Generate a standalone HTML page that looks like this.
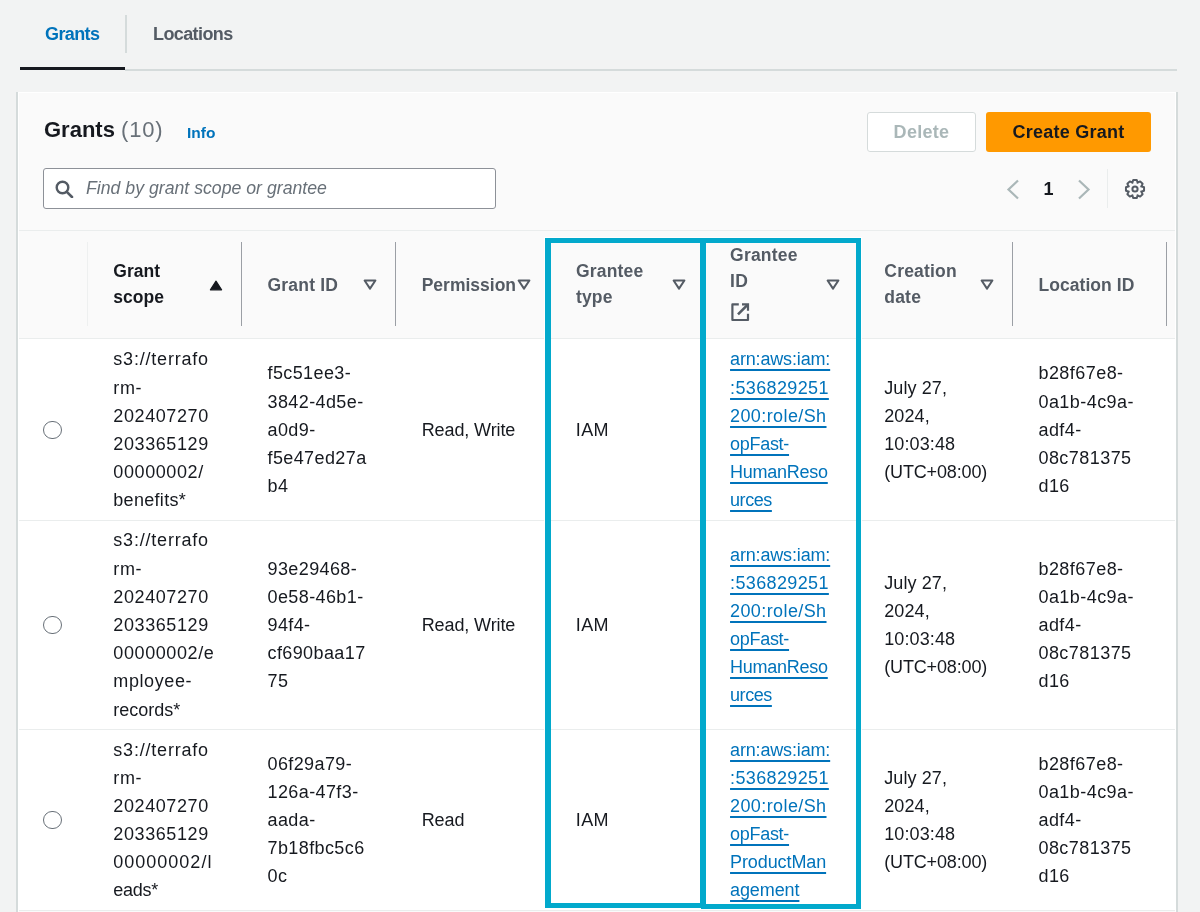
<!DOCTYPE html>
<html><head><meta charset="utf-8">
<style>
*{box-sizing:border-box;margin:0;padding:0}
html,body{width:1200px;height:912px;overflow:hidden;background:#f2f3f3;font-family:"Liberation Sans",sans-serif;color:#16191f}
.a{position:absolute;white-space:nowrap}
.tab{font-weight:bold;font-size:18px;line-height:20px;letter-spacing:-0.6px}
.hd{font-size:17.5px;font-weight:bold;line-height:25.6px;color:#545b64}
.sep{position:absolute;top:242px;width:1px;height:84px;background:#9b9fa5}
.tri{position:absolute}
#tbl{position:absolute;left:19px;top:339px;width:1156px;height:600px;overflow:hidden}
table{border-collapse:collapse;table-layout:fixed;width:1300px}
td{text-align:left;vertical-align:middle;background:#fff;border-bottom:1px solid #eaeded;font-size:18px;line-height:28.17px;white-space:nowrap;padding:1.2px 0 0 26.3px;letter-spacing:0.3px}
a{color:#0073bb;text-decoration:underline;text-underline-offset:4.2px;text-decoration-thickness:1.9px}
.radio{display:block;width:18.4px;height:18.4px;border:1.7px solid #687078;border-radius:50%}
.box{position:absolute;border:5px solid #02a9cc}
.halo{position:absolute;border:1px solid rgba(255,255,255,.9)}
</style></head><body>
<div id="root" style="position:absolute;left:0;top:0;width:1200px;height:912px;overflow:hidden;will-change:transform">
<div class="a tab" style="left:45px;top:23.6px;color:#0073bb">Grants</div>
<div class="a tab" style="left:153px;top:23.6px;color:#545b64">Locations</div>
<div class="a" style="left:125px;top:15px;width:2px;height:38px;background:#d5dbdb"></div>
<div class="a" style="left:125px;top:69px;width:1052px;height:2px;background:#d5dbdb"></div>
<div class="a" style="left:20px;top:67px;width:105px;height:3px;background:#16191f"></div>
<div class="a" style="left:16px;top:92px;width:1162px;height:830px;background:#fafafa;border-left:2px solid #d5dbdb;border-right:2px solid #d5dbdb;box-shadow:inset 1px 0 0 #fff,inset -1px 0 0 #fff,inset 0 1px 0 #fff"></div>
<div class="a" style="left:44px;top:115.5px;font-size:22px;font-weight:bold;line-height:28px">Grants <span style="font-weight:normal;color:#687078;letter-spacing:0.8px">(10)</span></div>
<div class="a" style="left:187px;top:124px;font-size:15.5px;font-weight:bold;color:#0073bb;line-height:18px">Info</div>
<div class="a" style="left:867px;top:112px;width:109px;height:40px;border:1px solid #d5dbdb;border-radius:3px;background:#fff;color:#aab7b8;font-weight:bold;font-size:18px;line-height:38px;text-align:center;letter-spacing:0.3px">Delete</div>
<div class="a" style="left:986px;top:112px;width:165px;height:40px;border-radius:3px;background:#ff9900;color:#16191f;font-weight:bold;font-size:18px;line-height:40px;text-align:center;letter-spacing:0.25px">Create Grant</div>
<div class="a" style="left:43px;top:168px;width:453px;height:41px;border:1px solid #8d9198;border-radius:3px;background:#fff"></div>
<svg class="a" style="left:55px;top:180px" width="19" height="18" viewBox="0 0 19 18"><circle cx="7.5" cy="7.5" r="5.8" fill="none" stroke="#545b64" stroke-width="2.4"/><line x1="11.8" y1="11.8" x2="17" y2="17" stroke="#545b64" stroke-width="2.6" stroke-linecap="round"/></svg>
<div class="a" style="left:86px;top:178px;font-size:17.7px;font-style:italic;color:#687078;line-height:20px">Find by grant scope or grantee</div>
<svg class="a" style="left:1006px;top:179px" width="14" height="21" viewBox="0 0 14 21"><polyline points="12,1.5 2.5,10.5 12,19.5" fill="none" stroke="#aab7b8" stroke-width="2.2"/></svg>
<div class="a" style="left:1043.5px;top:178.5px;font-size:18px;font-weight:bold;line-height:20px">1</div>
<svg class="a" style="left:1077px;top:179px" width="14" height="21" viewBox="0 0 14 21"><polyline points="2,1.5 11.5,10.5 2,19.5" fill="none" stroke="#aab7b8" stroke-width="2.2"/></svg>
<div class="a" style="left:1107px;top:169px;width:1px;height:39px;background:#eaeded"></div>
<svg class="a" style="left:1122.6px;top:177.1px" width="24" height="24" viewBox="0 0 24 24"><path d="M9.50 5.14 L10.30 2.96 L13.70 2.96 L14.50 5.14 L14.56 5.81 L15.08 5.38 L17.19 4.40 L19.60 6.81 L18.62 8.92 L18.19 9.44 L18.86 9.50 L21.04 10.30 L21.04 13.70 L18.86 14.50 L18.19 14.56 L18.62 15.08 L19.60 17.19 L17.19 19.60 L15.08 18.62 L14.56 18.19 L14.50 18.86 L13.70 21.04 L10.30 21.04 L9.50 18.86 L9.44 18.19 L8.92 18.62 L6.81 19.60 L4.40 17.19 L5.38 15.08 L5.81 14.56 L5.14 14.50 L2.96 13.70 L2.96 10.30 L5.14 9.50 L5.81 9.44 L5.38 8.92 L4.40 6.81 L6.81 4.40 L8.92 5.38 L9.44 5.81Z" fill="none" stroke="#545b64" stroke-width="2" stroke-linejoin="round"/><circle cx="12" cy="12" r="2.6" fill="none" stroke="#545b64" stroke-width="2"/></svg>
<div class="a" style="left:19px;top:230px;width:1156px;height:109px;background:#fafafa;border-top:1px solid #eaeded;border-bottom:1px solid #eaeded"></div>
<div class="sep" style="left:87px;background:#eef0f0"></div>
<div class="sep" style="left:241px;background:#9b9fa5"></div>
<div class="sep" style="left:395px;background:#9b9fa5"></div>
<div class="sep" style="left:549px;background:#9b9fa5"></div>
<div class="sep" style="left:703px;background:#9b9fa5"></div>
<div class="sep" style="left:858px;background:#9b9fa5"></div>
<div class="sep" style="left:1012px;background:#9b9fa5"></div>
<div class="sep" style="left:1166px;background:#9b9fa5"></div>
<div class="a hd" style="left:113.3px;top:259.34px;color:#16191f;letter-spacing:0px">Grant<br>scope</div>
<svg class="tri" style="left:209.0px;top:279.5px" width="14" height="11" viewBox="0 0 14 11"><path d="M7 1.2L12.6 9.8H1.4Z" fill="#16191f" stroke="#16191f" stroke-width="1.2" stroke-linejoin="round"/></svg>
<div class="a hd" style="left:267.5px;top:272.74px;color:#545b64;letter-spacing:0.2px">Grant ID</div>
<svg class="tri" style="left:363.2px;top:279.3px" width="14" height="11" viewBox="0 0 14 11"><path d="M1.6 1.5H12.4L7 9.6Z" fill="none" stroke="#545b64" stroke-width="2" stroke-linejoin="round"/></svg>
<div class="a hd" style="left:421.7px;top:272.74px;color:#545b64;letter-spacing:0px">Permission</div>
<svg class="tri" style="left:517.4px;top:279.3px" width="14" height="11" viewBox="0 0 14 11"><path d="M1.6 1.5H12.4L7 9.6Z" fill="none" stroke="#545b64" stroke-width="2" stroke-linejoin="round"/></svg>
<div class="a hd" style="left:575.9px;top:259.34px;color:#545b64;letter-spacing:0.2px">Grantee<br>type</div>
<svg class="tri" style="left:671.5999999999999px;top:279.3px" width="14" height="11" viewBox="0 0 14 11"><path d="M1.6 1.5H12.4L7 9.6Z" fill="none" stroke="#545b64" stroke-width="2" stroke-linejoin="round"/></svg>
<div class="a hd" style="left:730.1px;top:243.14px;color:#545b64;letter-spacing:0.2px">Grantee<br>ID</div>
<svg class="a" style="left:730.6px;top:303.2px" width="19" height="19" viewBox="0 0 19 19"><path d="M7.8 1.4H1.4V17H17V10.8" fill="none" stroke="#545b64" stroke-width="2.2" stroke-linejoin="round"/><path d="M11 1.4H17V7.8" fill="none" stroke="#545b64" stroke-width="2.2"/><path d="M16.5 1.9L7 11.4" fill="none" stroke="#545b64" stroke-width="2.6"/></svg>
<svg class="tri" style="left:825.8px;top:279.3px" width="14" height="11" viewBox="0 0 14 11"><path d="M1.6 1.5H12.4L7 9.6Z" fill="none" stroke="#545b64" stroke-width="2" stroke-linejoin="round"/></svg>
<div class="a hd" style="left:884.3px;top:259.34px;color:#545b64;letter-spacing:0.2px">Creation<br>date</div>
<svg class="tri" style="left:980.0px;top:279.3px" width="14" height="11" viewBox="0 0 14 11"><path d="M1.6 1.5H12.4L7 9.6Z" fill="none" stroke="#545b64" stroke-width="2" stroke-linejoin="round"/></svg>
<div class="a hd" style="left:1038.5px;top:272.74px;color:#545b64;letter-spacing:0.05px">Location ID</div>
<div id="tbl"><table><colgroup><col style="width:68px"><col style="width:154.2px"><col style="width:154.2px"><col style="width:154.2px"><col style="width:154.2px"><col style="width:154.2px"><col style="width:154.2px"><col style="width:154.2px"><col style="width:152.6px"></colgroup><tbody>
<tr style="height:181px">
<td style="padding-left:24.2px"><span class="radio"></span></td>
<td><span style="letter-spacing:0.8px">s3://terrafo</span><br><span style="letter-spacing:0.6px">rm-</span><br><span style="letter-spacing:0.6px">202407270</span><br><span style="letter-spacing:0.6px">203365129</span><br><span style="letter-spacing:0.6px">00000002/</span><br><span style="letter-spacing:0.3px">benefits*</span></td>
<td style="letter-spacing:0.4px">f5c51ee3-<br>3842-4d5e-<br>a0d9-<br>f5e47ed27a<br>b4</td>
<td style="letter-spacing:-0.1px">Read, Write</td>
<td>IAM</td>
<td><a style="letter-spacing:-0.16px">arn:aws:iam:</a><br><a style="letter-spacing:0.37px">:536829251</a><br><a style="letter-spacing:0.4px">200:role/Sh</a><br><a style="letter-spacing:-0.29px">opFast-</a><br><a style="letter-spacing:-0.26px">HumanReso</a><br><a style="letter-spacing:-0.44px">urces</a></td>
<td style="letter-spacing:0.1px">July 27,<br>2024,<br>10:03:48<br><span style="letter-spacing:-0.15px">(UTC+08:00)</span></td>
<td style="letter-spacing:0.45px">b28f67e8-<br>0a1b-4c9a-<br>adf4-<br>08c781375<br>d16</td>
<td></td></tr>
<tr style="height:209px">
<td style="padding-left:24.2px"><span class="radio"></span></td>
<td><span style="letter-spacing:0.8px">s3://terrafo</span><br><span style="letter-spacing:0.6px">rm-</span><br><span style="letter-spacing:0.6px">202407270</span><br><span style="letter-spacing:0.6px">203365129</span><br><span style="letter-spacing:0.6px">00000002/e</span><br><span style="letter-spacing:0.6px">mployee-</span><br><span style="letter-spacing:0px">records*</span></td>
<td style="letter-spacing:0.4px">93e29468-<br>0e58-46b1-<br>94f4-<br>cf690baa17<br>75</td>
<td style="letter-spacing:-0.1px">Read, Write</td>
<td>IAM</td>
<td><a style="letter-spacing:-0.16px">arn:aws:iam:</a><br><a style="letter-spacing:0.37px">:536829251</a><br><a style="letter-spacing:0.4px">200:role/Sh</a><br><a style="letter-spacing:-0.29px">opFast-</a><br><a style="letter-spacing:-0.26px">HumanReso</a><br><a style="letter-spacing:-0.44px">urces</a></td>
<td style="letter-spacing:0.1px">July 27,<br>2024,<br>10:03:48<br><span style="letter-spacing:-0.15px">(UTC+08:00)</span></td>
<td style="letter-spacing:0.45px">b28f67e8-<br>0a1b-4c9a-<br>adf4-<br>08c781375<br>d16</td>
<td></td></tr>
<tr style="height:181px">
<td style="padding-left:24.2px"><span class="radio"></span></td>
<td><span style="letter-spacing:0.8px">s3://terrafo</span><br><span style="letter-spacing:0.6px">rm-</span><br><span style="letter-spacing:0.6px">202407270</span><br><span style="letter-spacing:0.6px">203365129</span><br><span style="letter-spacing:1.0px">00000002/l</span><br><span style="letter-spacing:-0.3px">eads*</span></td>
<td style="letter-spacing:0.4px">06f29a79-<br>126a-47f3-<br>aada-<br>7b18fbc5c6<br>0c</td>
<td style="letter-spacing:-0.1px">Read</td>
<td>IAM</td>
<td><a style="letter-spacing:-0.16px">arn:aws:iam:</a><br><a style="letter-spacing:0.37px">:536829251</a><br><a style="letter-spacing:0.4px">200:role/Sh</a><br><a style="letter-spacing:-0.29px">opFast-</a><br><a style="letter-spacing:-0.1px">ProductMan</a><br><a style="letter-spacing:-0.1px">agement</a></td>
<td style="letter-spacing:0.1px">July 27,<br>2024,<br>10:03:48<br><span style="letter-spacing:-0.15px">(UTC+08:00)</span></td>
<td style="letter-spacing:0.45px">b28f67e8-<br>0a1b-4c9a-<br>adf4-<br>08c781375<br>d16</td>
<td></td></tr>
</tbody></table></div>
<div class="halo" style="left:544px;top:237px;width:318px;height:673px"></div>
<div class="box" style="left:545px;top:238px;width:160px;height:670px;border-left-width:6px"></div>
<div class="box" style="left:701px;top:238px;width:160px;height:671px"></div>
</div>
</body></html>
